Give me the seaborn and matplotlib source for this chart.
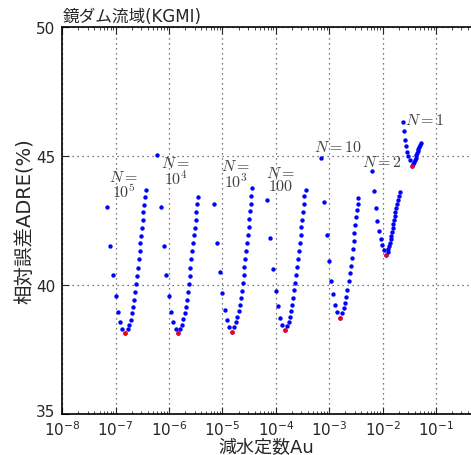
import matplotlib
matplotlib.use("Agg")
import matplotlib.pyplot as plt
import matplotlib.transforms as mtransforms
import numpy as np
import pandas as pd
import seaborn as sns

# recession constant Au and relative error ADRE(%) for each number of layers N
a_n100000 = [6.97e-8, 7.93e-8, 8.91e-8, 1.00e-7, 1.09e-7, 1.19e-7, 1.31e-7, 1.48e-7,
             1.70e-7, 1.80e-7, 1.91e-7, 2.02e-7, 2.11e-7, 2.20e-7, 2.30e-7, 2.40e-7,
             2.51e-7, 2.62e-7, 2.70e-7, 2.82e-7, 2.89e-7, 2.98e-7, 3.11e-7, 3.21e-7,
             3.29e-7, 3.39e-7, 3.49e-7, 3.65e-7]
e_n100000 = [43.02, 41.52, 40.39, 39.57, 38.97, 38.55, 38.31, 38.13,
             38.29, 38.46, 38.66, 38.90, 39.15, 39.42, 39.74, 40.05,
             40.36, 40.67, 41.00, 41.31, 41.62, 41.91, 42.21, 42.52,
             42.82, 43.11, 43.41, 43.69]

a_n10000 = [5.86e-7, 7.06e-7, 7.92e-7, 8.87e-7, 1.01e-6, 1.09e-6, 1.20e-6, 1.33e-6,
            1.49e-6, 1.62e-6, 1.75e-6, 1.85e-6, 1.96e-6, 2.05e-6, 2.14e-6, 2.23e-6,
            2.33e-6, 2.43e-6, 2.50e-6, 2.61e-6, 2.69e-6, 2.81e-6, 2.89e-6, 3.02e-6,
            3.15e-6, 3.24e-6, 3.33e-6, 3.52e-6]
e_n10000 = [45.05, 43.02, 41.52, 40.39, 39.57, 38.97, 38.55, 38.31,
            38.13, 38.29, 38.46, 38.67, 38.90, 39.15, 39.43, 39.73,
            40.05, 40.36, 40.67, 41.00, 41.31, 41.62, 41.93, 42.21,
            42.52, 42.83, 43.13, 43.42]

a_n1000 = [7.03e-6, 7.90e-6, 8.99e-6, 9.93e-6, 1.10e-5, 1.22e-5, 1.34e-5, 1.53e-5,
           1.67e-5, 1.79e-5, 1.90e-5, 2.01e-5, 2.10e-5, 2.19e-5, 2.29e-5, 2.39e-5,
           2.50e-5, 2.56e-5, 2.68e-5, 2.76e-5, 2.88e-5, 2.97e-5, 3.10e-5, 3.18e-5,
           3.28e-5, 3.38e-5, 3.47e-5, 3.57e-5]
e_n1000 = [43.14, 41.64, 40.49, 39.68, 39.04, 38.64, 38.38, 38.19,
           38.37, 38.55, 38.75, 38.98, 39.22, 39.50, 39.78, 40.08,
           40.38, 40.69, 41.01, 41.32, 41.63, 41.93, 42.24, 42.55,
           42.86, 43.15, 43.45, 43.75]

a_n100 = [6.92e-5, 7.87e-5, 8.96e-5, 9.93e-5, 1.10e-4, 1.19e-4, 1.30e-4, 1.48e-4,
          1.64e-4, 1.74e-4, 1.84e-4, 1.95e-4, 2.03e-4, 2.12e-4, 2.21e-4, 2.31e-4,
          2.42e-4, 2.52e-4, 2.60e-4, 2.71e-4, 2.79e-4, 2.92e-4, 2.99e-4, 3.09e-4,
          3.22e-4, 3.32e-4, 3.41e-4, 3.62e-4]
e_n100 = [43.29, 41.81, 40.62, 39.76, 39.17, 38.72, 38.45, 38.24,
          38.42, 38.58, 38.77, 38.99, 39.24, 39.51, 39.79, 40.09,
          40.38, 40.69, 41.00, 41.32, 41.63, 41.93, 42.24, 42.53,
          42.84, 43.14, 43.45, 43.69]

a_n10 = [6.92e-4, 7.98e-4, 8.96e-4, 9.89e-4, 1.08e-3, 1.17e-3, 1.28e-3, 1.42e-3,
         1.59e-3, 1.75e-3, 1.89e-3, 2.00e-3, 2.08e-3, 2.18e-3, 2.31e-3, 2.42e-3,
         2.52e-3, 2.63e-3, 2.75e-3, 2.87e-3, 2.94e-3, 3.08e-3, 3.17e-3, 3.27e-3,
         3.40e-3, 3.52e-3]
e_n10 = [44.92, 43.23, 41.95, 40.92, 40.16, 39.64, 39.24, 38.97,
         38.72, 38.91, 39.10, 39.30, 39.55, 39.82, 40.14, 40.45,
         40.75, 41.06, 41.38, 41.71, 42.02, 42.33, 42.62, 42.92,
         43.15, 43.37]

a_n2 = [6.32e-3, 6.89e-3, 7.41e-3, 7.94e-3, 8.55e-3, 9.20e-3, 9.73e-3, 1.05e-2,
        1.17e-2, 1.24e-2, 1.28e-2, 1.33e-2, 1.37e-2, 1.42e-2, 1.45e-2, 1.50e-2,
        1.54e-2, 1.58e-2, 1.63e-2, 1.68e-2, 1.73e-2, 1.78e-2, 1.83e-2, 1.91e-2,
        2.00e-2, 2.11e-2]
e_n2 = [44.41, 43.63, 43.00, 42.47, 42.09, 41.78, 41.55, 41.34,
        41.17, 41.29, 41.40, 41.51, 41.64, 41.78, 41.91, 42.05,
        42.21, 42.36, 42.52, 42.67, 42.83, 42.98, 43.14, 43.31,
        43.46, 43.62]

a_n1 = [2.38e-2, 2.48e-2, 2.59e-2, 2.70e-2, 2.86e-2, 3.03e-2, 3.21e-2, 3.59e-2,
        3.75e-2, 3.92e-2, 4.04e-2, 4.16e-2, 4.27e-2, 4.40e-2, 4.54e-2, 4.66e-2,
        4.80e-2, 5.01e-2, 5.30e-2]
e_n1 = [46.31, 45.96, 45.63, 45.38, 45.16, 44.99, 44.86, 44.61,
        44.69, 44.78, 44.86, 44.93, 45.03, 45.10, 45.18, 45.26,
        45.34, 45.41, 45.50]

# labels and where they sit (Au, ADRE)
label_text = ["$N=$\n$10^5$", "$N=$\n$10^4$", "$N=$\n$10^3$", "$N=$\n$100$",
              "$N=10$", "$N=2$", "$N=1$"]
label_a = [1.43e-7, 1.35e-6, 1.79e-5, 1.25e-4, 1.46e-3, 9.9e-3, 6.2e-2]
label_e = [43.9, 44.42, 44.30, 44.11, 45.37, 44.79, 46.40]

curves = {
    "100000": (a_n100000, e_n100000),
    "10000": (a_n10000, e_n10000),
    "1000": (a_n1000, e_n1000),
    "100": (a_n100, e_n100),
    "10": (a_n10, e_n10),
    "2": (a_n2, e_n2),
    "1": (a_n1, e_n1),
}

frames = []
for n, (a, e) in curves.items():
    frames.append(pd.DataFrame({"N": n, "Au": a, "ADRE": e}))
df = pd.concat(frames, ignore_index=True)
best = df.loc[df.groupby("N")["ADRE"].idxmin()]

sns.set_style("ticks", {"xtick.direction": "in", "ytick.direction": "in"})
plt.rcParams["font.family"] = ["DejaVu Sans", "Noto Sans CJK JP"]
plt.rcParams["mathtext.fontset"] = "cm"
plt.rcParams["axes.unicode_minus"] = False

fig = plt.figure(figsize=(4.71, 4.56), dpi=100)
# axes run past the right edge of the picture, as in the original
ax = fig.add_axes([62.3 / 471, 41 / 456, 427.1 / 471, 387 / 456])

sns.scatterplot(data=df, x="Au", y="ADRE", color="blue", s=10,
                linewidth=0, ax=ax, zorder=3)
sns.scatterplot(data=best, x="Au", y="ADRE", color="red", s=10,
                linewidth=0, ax=ax, zorder=4)

for txt, xa, ye in zip(label_text, label_a, label_e):
    ax.text(xa, ye, txt, ha="center", va="center", fontsize=11.5,
            color="0.25", linespacing=0.9, zorder=5)

ax.set_xscale("log")
ax.set_xlim(1e-8, 1e0)
ax.set_ylim(35, 50)
ax.set_yticks([35, 40, 45, 50])
ax.set_xticks([10.0 ** k for k in range(-8, 0)])
ax.grid(True, which="major", color="0.3", linestyle=(0, (1, 3)), linewidth=0.9)
ax.tick_params(which="both", direction="in", top=True, right=True, labelsize=11)
ax.tick_params(axis="x", pad=4)
ax.tick_params(axis="y", pad=5)
ax.tick_params(which="major", length=5)
ax.tick_params(which="minor", length=2.5)
for side in ["left", "bottom", "top", "right"]:
    ax.spines[side].set_linewidth(1.2)
    ax.spines[side].set_color("black")

# lift the bottom y label a little so it clears the first x label
lbl = ax.get_yticklabels()[0]
lbl.set_transform(lbl.get_transform() +
                  mtransforms.ScaledTranslation(0, 3 / 72, fig.dpi_scale_trans))

ax.set_xlabel("減水定数Au", fontsize=13)
ax.xaxis.set_label_coords((266.5 - 62.3) / 427.1, -0.062)
ax.set_ylabel("相対誤差ADRE(%)", fontsize=14, labelpad=1)
ax.set_title("鏡ダム流域(KGMI)", loc="left", fontsize=12, pad=4)

fig.savefig("out.png", dpi=100)
